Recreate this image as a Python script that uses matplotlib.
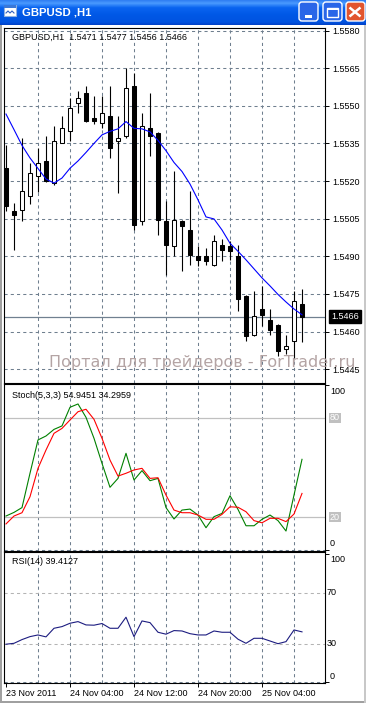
import numpy as np
import matplotlib.pyplot as plt
import matplotlib.patches as mpatches
from matplotlib.colors import LinearSegmentedColormap
from matplotlib.ticker import FormatStrFormatter

plt.rcParams['font.family'] = ['Liberation Sans', 'DejaVu Sans']

W, H = 366, 703

# GBPUSD H1 bars, first bar 23 Nov 2011 20:00
opens = [1.55252, 1.55082, 1.55086, 1.55139, 1.55219, 1.55278, 1.55192, 1.55351, 1.55398, 1.55511,
         1.55550, 1.55451, 1.55431, 1.55458, 1.55358, 1.55378, 1.55577, 1.55040, 1.55411, 1.55391,
         1.55040, 1.54940, 1.55040, 1.55006, 1.54900, 1.54900, 1.54867, 1.54947, 1.54940, 1.54900,
         1.54741, 1.54588, 1.54688, 1.54648, 1.54628, 1.54529, 1.54562, 1.5471]
highs = [1.55345, 1.55113, 1.55371, 1.55272, 1.55332, 1.55378, 1.55418, 1.55458, 1.55531, 1.55560,
         1.55577, 1.55537, 1.55537, 1.55577, 1.55458, 1.55650, 1.55630, 1.55471, 1.55550, 1.55395,
         1.55119, 1.55239, 1.55046, 1.55159, 1.54940, 1.54933, 1.54986, 1.54967, 1.54960, 1.54947,
         1.54745, 1.54761, 1.54781, 1.54688, 1.54630, 1.54588, 1.54761, 1.5477]
lows = [1.55079, 1.54927, 1.55040, 1.55109, 1.55156, 1.55196, 1.55186, 1.55350, 1.55358, 1.55471,
        1.55435, 1.55427, 1.55411, 1.55292, 1.55152, 1.55371, 1.55006, 1.55026, 1.55298, 1.54986,
        1.54827, 1.54900, 1.54841, 1.54867, 1.54860, 1.54867, 1.54860, 1.54880, 1.54887, 1.54681,
        1.54562, 1.54582, 1.54622, 1.54588, 1.54502, 1.54509, 1.54496, 1.5456]
closes = [1.55099, 1.55066, 1.55159, 1.55232, 1.55272, 1.55199, 1.55358, 1.55411, 1.55491, 1.55531,
          1.55438, 1.55438, 1.55471, 1.55332, 1.55371, 1.55570, 1.55026, 1.55418, 1.55378, 1.55046,
          1.54947, 1.55046, 1.55020, 1.54907, 1.54887, 1.54880, 1.54960, 1.54927, 1.54920, 1.54728,
          1.54582, 1.54661, 1.54668, 1.54608, 1.54522, 1.54542, 1.54721, 1.5466]

# moving average (blue line)
ma = [1.55467, 1.55405, 1.55342, 1.55292, 1.55250, 1.55208, 1.55192, 1.55212, 1.55251, 1.55280,
      1.55314, 1.55350, 1.55384, 1.55398, 1.55408, 1.55437, 1.55410, 1.55408, 1.55396, 1.55362,
      1.55321, 1.55274, 1.55238, 1.55188, 1.55125, 1.55057, 1.55049, 1.55005, 1.54952, 1.54920,
      1.54886, 1.54850, 1.54814, 1.54782, 1.54748, 1.54718, 1.54690, 1.54667]

stoch_k = [20.6, 22.8, 25.7, 46.5, 66.7, 69.1, 73.1, 75.2, 86.5, 88.5,
           80.4, 67.7, 52.5, 38.0, 43.4, 58.6, 42.4, 48.1, 42.0, 43.4,
           25.7, 18.8, 24.2, 24.8, 21.2, 13.5, 20.2, 22.2, 32.9, 24.6,
           14.7, 14.7, 18.6, 21.2, 17.8, 11.5, 33.3, 54.9451]
stoch_d = [15.8, 20.6, 22.6, 32.3, 49.5, 60.6, 70.7, 73.7, 78.8, 83.8,
           85.3, 79.2, 67.7, 54.5, 44.8, 46.5, 48.5, 49.5, 43.4, 43.8,
           33.3, 24.2, 22.6, 22.6, 21.2, 18.6, 18.6, 21.6, 26.2, 25.9,
           23.2, 17.8, 16.5, 19.2, 19.2, 17.2, 21.8, 34.2959]
rsi = [29.8, 30.5, 33.4, 35.7, 37.0, 35.5, 42.2, 43.5, 46.1, 47.4,
       44.8, 44.6, 45.9, 42.2, 42.2, 50.8, 35.7, 47.9, 46.6, 39.1,
       37.6, 40.4, 40.1, 38.0, 37.0, 37.0, 40.1, 39.1, 39.1, 33.7,
       30.5, 34.4, 34.4, 32.3, 30.2, 31.8, 40.9, 39.4127]

price_levels = [1.5445, 1.5460, 1.5475, 1.5490, 1.5505, 1.5520, 1.5535, 1.5550, 1.5565, 1.5580]
date_bars = [0, 8, 16, 24, 32]
date_labels = ['23 Nov 2011', '24 Nov 04:00', '24 Nov 12:00', '24 Nov 20:00', '25 Nov 04:00']
grid_bars = [4, 8, 12, 16, 20, 24, 28, 32, 36]

GRID = '#6f7f8f'
DASH = (0, (3, 3))
FS = 6.5

fig = plt.figure(figsize=(W / 100, H / 100), dpi=100)
fig.patch.set_facecolor('white')

# window chrome
bg = fig.add_axes([0, 0, 1, 1])
bg.set_xlim(0, W)
bg.set_ylim(H, 0)
bg.axis('off')
cmap = LinearSegmentedColormap.from_list('xp', [(0, '#2f7ef2'), (0.12, '#4a9bff'), (0.3, '#0a64f0'),
                                                (0.6, '#0058e6'), (0.9, '#0053e0'), (1, '#0041c8')])
bg.imshow(np.linspace(0, 1, 50).reshape(-1, 1), cmap=cmap, aspect='auto', extent=[0, W, 25, 0])
bg.add_patch(mpatches.Rectangle((0, 25), 2, H - 25, color='#a0a0a0', lw=0))
bg.add_patch(mpatches.Rectangle((0, H - 2), W, 2, color='#a0a0a0', lw=0))
bg.add_patch(mpatches.Rectangle((W - 2, 25), 2, H - 25, color='#c8c8c8', lw=0))
# icon
bg.add_patch(mpatches.Rectangle((4, 5), 12, 11, fc='white', ec='#8fb0e0', lw=0.8))
bg.add_patch(mpatches.Rectangle((4, 5), 12, 3, fc='#3a78d8', lw=0))
bg.plot([6, 8, 10, 12, 14], [13, 11, 13, 11, 13], color='#3060c0', lw=0.8)
bg.text(22, 12.5, 'GBPUSD ,H1', color='white', fontsize=8.2, fontweight='bold', va='center', ha='left')
for x0, fc in [(298, '#2a66e8'), (322, '#2a66e8'), (345, '#e1552f')]:
    bg.add_patch(mpatches.FancyBboxPatch((x0 + 1, 2), 19, 19, boxstyle='round,pad=0,rounding_size=3',
                                         fc=fc, ec='white', lw=1))
bg.add_patch(mpatches.Rectangle((305, 15), 7, 2.5, color='white', lw=0))
bg.add_patch(mpatches.Rectangle((327, 7.5), 11, 9.5, fc='none', ec='white', lw=1))
bg.add_patch(mpatches.Rectangle((327, 7.5), 11, 2, color='white', lw=0))
bg.plot([349.5, 360.5], [7.5, 16.5], color='white', lw=1.8, solid_capstyle='butt')
bg.plot([349.5, 360.5], [16.5, 7.5], color='white', lw=1.8, solid_capstyle='butt')

bars = np.arange(len(closes))


def panel(top, bottom):
    ax = fig.add_axes([4 / W, 1 - bottom / H, 321 / W, (bottom - top) / H])
    ax.set_facecolor('white')
    for s in ax.spines.values():
        s.set_color('black')
        s.set_linewidth(0.8)
    ax.set_xlim(-0.25, 39.875)
    ax.tick_params(axis='x', which='both', bottom=False, labelbottom=False)
    ax.yaxis.tick_right()
    ax.tick_params(axis='y', direction='out', length=3, width=0.7, pad=2, labelsize=FS, colors='black')
    ax.vlines(grid_bars, 0, 1, transform=ax.get_xaxis_transform(), colors=GRID, lw=0.75,
              linestyles=[DASH], zorder=0.5)
    return ax


# price panel
ax = panel(28, 383)
ax.set_ylim(1.54395, 1.55810)
ax.set_yticks(price_levels)
ax.yaxis.set_major_formatter(FormatStrFormatter('%.4f'))
ax.grid(axis='y', color=GRID, lw=0.75, linestyle=DASH, zorder=0.5)
ax.set_axisbelow(True)
ax.axhline(closes[-1], color='#708090', lw=0.9, zorder=1)
ax.vlines(bars, lows, highs, color='black', lw=0.8, zorder=2)
o = np.array(opens)
c = np.array(closes)
body_lo = np.minimum(o, c)
body_h = np.maximum(np.abs(c - o), 0.00003)
face = np.where(c >= o, 'white', 'black')
ax.bar(bars, body_h, bottom=body_lo, width=0.55, color=face, edgecolor='black', linewidth=0.75, zorder=3)
ax.plot(bars, ma, color='#0000ff', lw=0.8, zorder=4)
ax.text(8 / 321, 1 - 9 / 355, 'GBPUSD,H1  %.4f %.4f %.4f %.4f' % (opens[-1], highs[-1], lows[-1], closes[-1]),
        transform=ax.transAxes, fontsize=FS, va='center', ha='left')
ax.annotate('%.4f' % closes[-1], xy=(1, closes[-1]), xycoords=('axes fraction', 'data'),
            xytext=(6, 0), textcoords='offset pixels', va='center', ha='left', color='white', fontsize=FS,
            bbox=dict(boxstyle='square,pad=0.2', fc='black', ec='black'), annotation_clip=False)

# stochastic panel
ax_s = panel(384, 551)
ax_s.set_ylim(-0.6, 100.6)
ax_s.set_yticks([0, 100])
ax_s.set_yticklabels([])
ax_s.axhline(0, color=GRID, lw=0.75, linestyle=DASH, zorder=0.5)
for lv in [20, 80]:
    ax_s.axhline(lv, color='#c0c0c0', lw=0.9, zorder=1)
    ax_s.annotate(str(lv), xy=(1, lv), xycoords=('axes fraction', 'data'), xytext=(5, 0),
                  textcoords='offset pixels', va='center', ha='left', color='white', fontsize=FS,
                  bbox=dict(boxstyle='square,pad=0.1', fc='#c0c0c0', ec='none'), annotation_clip=False)
ax_s.annotate('100', xy=(1, 100), xycoords=('axes fraction', 'data'), xytext=(5, -7),
              textcoords='offset pixels', va='center', ha='left', fontsize=FS, annotation_clip=False)
ax_s.annotate('0', xy=(1, 0), xycoords=('axes fraction', 'data'), xytext=(5, 7),
              textcoords='offset pixels', va='center', ha='left', fontsize=FS, annotation_clip=False)
ax_s.plot(bars, stoch_k, color='#008000', lw=0.8, zorder=3)
ax_s.plot(bars, stoch_d, color='#ff0000', lw=0.8, zorder=3)
ax_s.text(8 / 321, 1 - 11 / 167, 'Stoch(5,3,3) %.4f %.4f' % (stoch_k[-1], stoch_d[-1]),
          transform=ax_s.transAxes, fontsize=FS, va='center', ha='left')

# RSI panel
ax_r = panel(552, 683)
ax_r.set_ylim(-0.39, 101.56)
ax_r.set_yticks([0, 100])
ax_r.set_yticklabels([])
ax_r.axhline(0, color=GRID, lw=0.75, linestyle=DASH, zorder=0.5)
for lv in [30, 70]:
    ax_r.axhline(lv, color='#b4b4b4', lw=0.75, linestyle=DASH, zorder=1)
    ax_r.annotate(str(lv), xy=(1, lv), xycoords=('axes fraction', 'data'), xytext=(2, 0),
                  textcoords='offset pixels', va='center', ha='left', fontsize=FS, annotation_clip=False)
ax_r.annotate('100', xy=(1, 100), xycoords=('axes fraction', 'data'), xytext=(5, -5),
              textcoords='offset pixels', va='center', ha='left', fontsize=FS, annotation_clip=False)
ax_r.annotate('0', xy=(1, 0), xycoords=('axes fraction', 'data'), xytext=(5, 5.5),
              textcoords='offset pixels', va='center', ha='left', fontsize=FS, annotation_clip=False)
ax_r.plot(bars, rsi, color='#1c1c80', lw=0.8, zorder=3)
ax_r.text(8 / 321, 1 - 9 / 131, 'RSI(14) %.4f' % rsi[-1], transform=ax_r.transAxes, fontsize=FS,
          va='center', ha='left')
ax_r.set_xticks(date_bars)
ax_r.set_xticklabels(date_labels, ha='left')
ax_r.tick_params(axis='x', bottom=True, labelbottom=True, direction='out', length=3, width=0.7,
                 pad=1, labelsize=FS)

fig.text(49 / W, 1 - 367 / H, 'Портал для трейдеров - ForTrader.ru', fontsize=11.5, color='#b4a4a4',
         family='DejaVu Sans', va='baseline', ha='left')

fig.savefig('out.png', dpi=100)
